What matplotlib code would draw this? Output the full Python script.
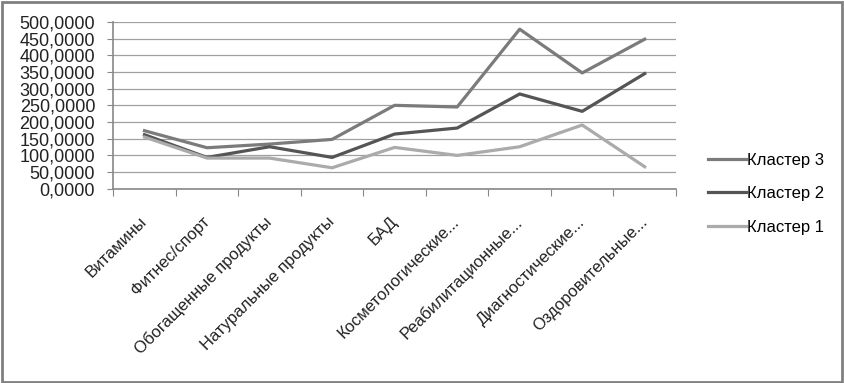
import numpy as np
import matplotlib.pyplot as plt
from matplotlib.patches import Rectangle

categories = ["Витамины", "Фитнес/спорт", "Обогащенные продукты", "Натуральные продукты",
              "БАД", "Косметологические...", "Реабилитационные...", "Диагностические...",
              "Оздоровительные..."]
cluster3 = [174, 123, 134, 148, 250, 245, 478, 347, 448]
cluster2 = [162, 94, 126, 94, 164, 182, 284, 232, 345]
cluster1 = [155, 92, 92, 63, 124, 100, 126, 191, 66]
yticks = np.arange(0, 501, 50)

plt.rcParams['font.family'] = ['Liberation Sans', 'DejaVu Sans']

fig = plt.figure(figsize=(8.45, 3.83), dpi=100)
ax = fig.add_axes([0.134, 0.507, 0.666, 0.436])

x = np.arange(len(categories))
l3, = ax.plot(x, cluster3, color="#7b7b7b", lw=2.3, label="Кластер 3")
l2, = ax.plot(x, cluster2, color="#555555", lw=2.3, label="Кластер 2")
l1, = ax.plot(x, cluster1, color="#ababab", lw=2.3, label="Кластер 1")

ax.set_xlim(-0.5, len(categories) - 0.5)
ax.set_ylim(0, 500)
ax.set_yticks(yticks)
ax.set_yticklabels([f"{v},0000" for v in yticks], fontsize=13, color="#222222")
ax.yaxis.grid(True, color="#a0a0a0", lw=0.9)
ax.set_axisbelow(True)

ax.set_xticks(np.arange(-0.5, len(categories), 1))
ax.set_xticklabels([])
ax.set_xticks(x, minor=True)
ax.set_xticklabels(categories, minor=True, rotation=45, ha="right", va="center",
                   rotation_mode="anchor", fontsize=12, color="#222222")
ax.tick_params(axis="x", which="minor", length=0, pad=22)
ax.tick_params(axis="x", which="major", length=5, color="#888888", direction="out")
ax.tick_params(axis="y", length=4, color="#888888", pad=9)

for s in ["top", "right"]:
    ax.spines[s].set_visible(False)
for s in ["left", "bottom"]:
    ax.spines[s].set_color("#888888")
    ax.spines[s].set_linewidth(1.2)

fig.legend(handles=[l3, l2, l1], loc="upper left", bbox_to_anchor=(0.82, 0.64),
           frameon=False, fontsize=12, labelspacing=1.1, handlelength=2.3,
           handletextpad=0.05)

fig.patches.append(Rectangle((0.002, 0.003), 0.995, 0.993, transform=fig.transFigure,
                             fill=False, edgecolor="#808080", lw=2))

fig.savefig("out.png", dpi=100)
